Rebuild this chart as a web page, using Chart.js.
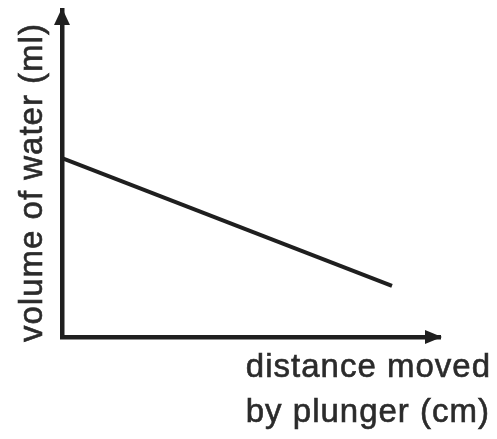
<!DOCTYPE html>
<html>
<head>
<meta charset="utf-8">
<script src="https://cdn.jsdelivr.net/npm/chart.js@4/dist/chart.umd.min.js"></script>
<style>
  html, body { margin: 0; padding: 0; background: #ffffff; }
  #wrap { width: 497px; height: 439px; }
</style>
</head>
<body>
<div id="wrap"><canvas id="c" width="497" height="439"></canvas></div>
<script>
// Distance moved by the plunger (cm) and the volume of water left (ml)
const distance = [0, 8.73];
const volume = [5.47, 1.56];

// Axis ranges (no numbered ticks on this sketch)
const distanceRange = [0, 10];
const volumeRange = [0, 10];

// Axis titles
const xTitleLines = ['distance moved', 'by plunger (cm)'];
const yTitle = 'volume of water (ml)';

const INK = '#1f1f1f';
const FONT = '33px "Liberation Sans", Arial, sans-serif';

function inkText(ctx, text, x, y) {
  ctx.fillText(text, x, y);
  ctx.strokeText(text, x, y);
}

// Arrowheads at the ends of both axes plus the axis titles
const sketchAxes = {
  id: 'sketchAxes',
  afterDraw(chart) {
    const { ctx, chartArea } = chart;
    const x0 = chart.scales.x.getPixelForValue(distanceRange[0]);
    const y0 = chart.scales.y.getPixelForValue(volumeRange[0]);
    ctx.save();
    ctx.fillStyle = INK;

    // arrow on top of the volume axis
    ctx.beginPath();
    ctx.moveTo(x0, chartArea.top - 2);
    ctx.lineTo(x0 - 8, chartArea.top + 15);
    ctx.lineTo(x0 + 8, chartArea.top + 15);
    ctx.closePath();
    ctx.fill();

    // arrow at the end of the distance axis
    ctx.beginPath();
    ctx.moveTo(chartArea.right + 2, y0);
    ctx.lineTo(chartArea.right - 15, y0 - 7);
    ctx.lineTo(chartArea.right - 15, y0 + 7);
    ctx.closePath();
    ctx.fill();

    // titles
    ctx.font = FONT;
    ctx.letterSpacing = '1px';
    ctx.fillStyle = '#2b2b2b';
    ctx.strokeStyle = '#2b2b2b';
    ctx.lineWidth = 0.6;
    ctx.textAlign = 'right';
    ctx.textBaseline = 'alphabetic';
    inkText(ctx, xTitleLines[0], 491, 377);
    inkText(ctx, xTitleLines[1], 490, 422);

    ctx.translate(42, 342);
    ctx.rotate(-Math.PI / 2);
    ctx.textAlign = 'left';
    inkText(ctx, yTitle, 0, 0);
    ctx.restore();
  }
};

new Chart(document.getElementById('c'), {
  type: 'line',
  data: {
    datasets: [{
      data: distance.map((d, i) => ({ x: d, y: volume[i] })),
      borderColor: INK,
      borderWidth: 4,
      pointRadius: 0,
      tension: 0,
      fill: false
    }]
  },
  options: {
    responsive: false,
    animation: false,
    devicePixelRatio: 1,
    layout: { padding: { left: 62, top: 10, right: 57, bottom: 102 } },
    plugins: { legend: { display: false }, tooltip: { enabled: false } },
    scales: {
      x: {
        type: 'linear',
        min: distanceRange[0],
        max: distanceRange[1],
        ticks: { display: false },
        grid: { display: false, drawTicks: false },
        border: { display: true, color: INK, width: 4.5 }
      },
      y: {
        type: 'linear',
        min: volumeRange[0],
        max: volumeRange[1],
        ticks: { display: false },
        grid: { display: false, drawTicks: false },
        border: { display: true, color: INK, width: 4.5 }
      }
    }
  },
  plugins: [sketchAxes]
});
</script>
</body>
</html>
